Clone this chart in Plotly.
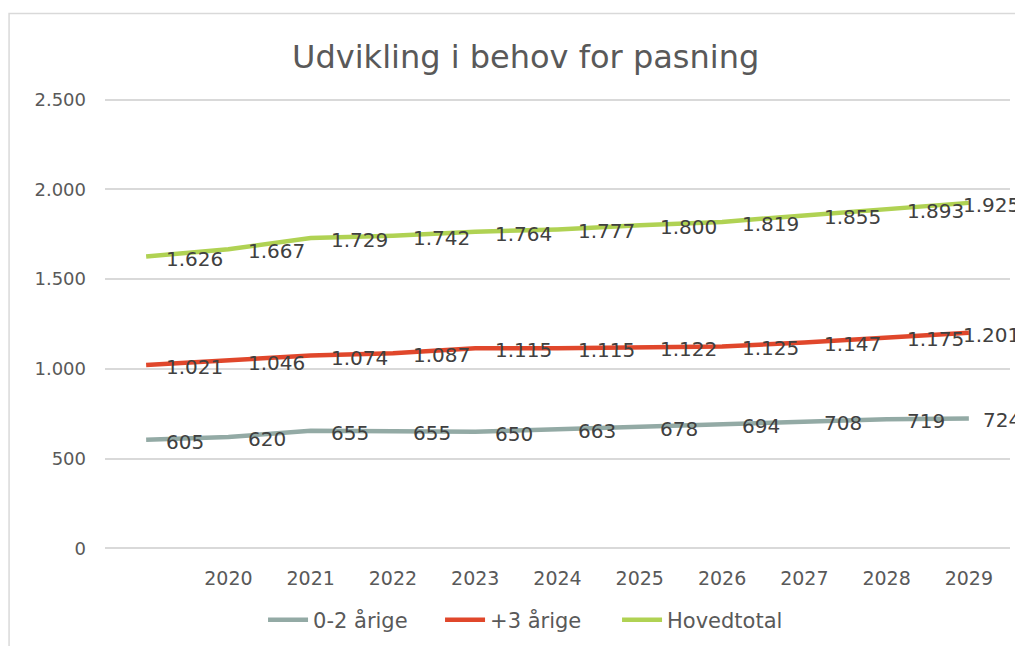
import plotly.graph_objects as go

categories = ["", "2020", "2021", "2022", "2023", "2024", "2025", "2026", "2027", "2028", "2029"]
aarige_0_2 = [605, 620, 655, 655, 650, 663, 678, 694, 708, 719, 724]
aarige_3 = [1021, 1046, 1074, 1087, 1115, 1115, 1122, 1125, 1147, 1175, 1201]
hovedtotal = [1626, 1667, 1729, 1742, 1764, 1777, 1800, 1819, 1855, 1893, 1925]
y_ticks = [0, 500, 1000, 1500, 2000, 2500]

series = [
    ("0-2 årige", aarige_0_2, "#93aaa5"),
    ("+3 årige", aarige_3, "#e0472b"),
    ("Hovedtotal", hovedtotal, "#b0d253"),
]

font = "DejaVu Sans, Verdana, sans-serif"
x_idx = list(range(len(categories)))

W, H = 1015, 638  # page body adds an 8px offset


def fmt(v):
    return f"{v:,}".replace(",", ".")


fig = go.Figure()
annotations = []
for name, vals, color in series:
    fig.add_trace(go.Scatter(
        x=x_idx, y=vals, name=name, mode="lines",
        line=dict(color=color, width=4.5),
        cliponaxis=False,
    ))
    for i, v in enumerate(vals):
        last = i == len(vals) - 1
        annotations.append(dict(
            x=x_idx[i], y=v, xref="x", yref="y", text=fmt(v), showarrow=False,
            xanchor="left", yanchor="middle",
            xshift=(-8 if last and v > 1000 else (12 if last else 18)), yshift=-2,
            font=dict(family=font, size=20, color="#404040"),
        ))

t_m, b_m = 89.3, 95.3
fig.update_layout(
    width=W, height=H,
    paper_bgcolor="white", plot_bgcolor="white",
    margin=dict(l=97, r=13, t=t_m, b=b_m, autoexpand=False),
    title=dict(text="Udvikling i behov for pasning", x=0.51, xanchor="center",
               yref="container", y=1 - 49 / H, yanchor="middle",
               font=dict(family=font, size=32, color="#595959")),
    xaxis=dict(tickmode="array", tickvals=x_idx, ticktext=categories, range=[-0.5, 10.5],
               showgrid=False, zeroline=False, showline=False, ticks="", automargin=False,
               tickfont=dict(family=font, size=19, color="#595959"), ticklabelstandoff=14),
    yaxis=dict(range=[-15, 2515], tickvals=y_ticks, ticktext=[fmt(t) for t in y_ticks],
               showgrid=True, gridcolor="#d9d9d9", gridwidth=1.5, zeroline=False, showline=False,
               ticks="", automargin=False,
               tickfont=dict(family=font, size=18, color="#595959"), ticklabelstandoff=18),
    legend=dict(orientation="h", x=0.468, xanchor="center", yref="container", y=1 - 612 / H,
                yanchor="middle", font=dict(family=font, size=21, color="#595959"),
                itemwidth=40, entrywidth=122, entrywidthmode="pixels"),
    showlegend=True,
    annotations=annotations,
    shapes=[dict(type="rect", xref="paper", yref="paper", x0=-0.106, x1=1.05, y0=-0.3, y1=1.1837,
                 line=dict(color="#d9d9d9", width=1.5), fillcolor="rgba(0,0,0,0)", layer="below")],
)

fig.write_html("out.html")
